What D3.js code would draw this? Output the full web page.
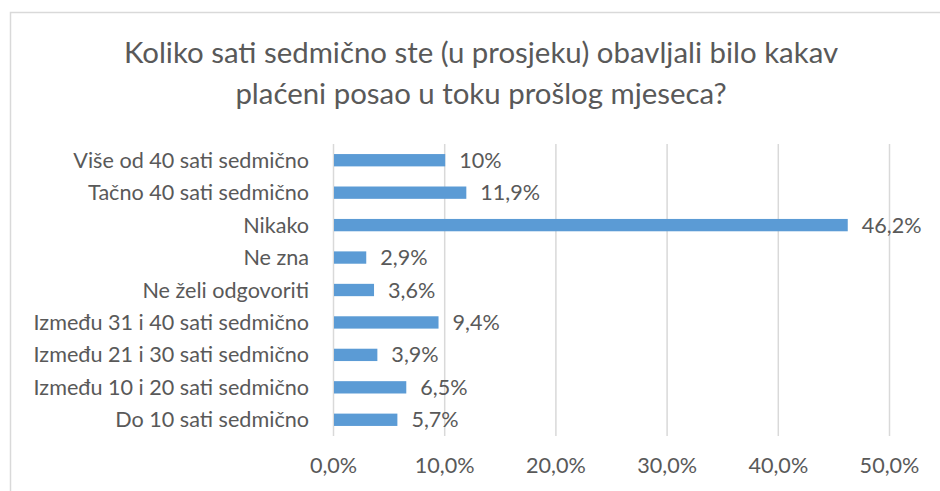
<!DOCTYPE html>
<html>
<head>
<meta charset="utf-8">
<script src="https://cdn.jsdelivr.net/npm/d3@7"></script>
<style>
  html, body { margin: 0; padding: 0; background: #fff; }
  svg { display: block; }
  text { font-family: Lato, "Open Sans", sans-serif; fill: #595959; }
</style>
</head>
<body>
<svg id="chart" width="940" height="491"></svg>
<script>
const titleLines = ["Koliko sati sedmično ste (u prosjeku) obavljali bilo kakav", "plaćeni posao u toku prošlog mjeseca?"];
const categories = [
  "Više od 40 sati sedmično",
  "Tačno 40 sati sedmično",
  "Nikako",
  "Ne zna",
  "Ne želi odgovoriti",
  "Između 31 i 40 sati sedmično",
  "Između 21 i 30 sati sedmično",
  "Između 10 i 20 sati sedmično",
  "Do 10 sati sedmično"
];
const values = [10, 11.9, 46.2, 2.9, 3.6, 9.4, 3.9, 6.5, 5.7];
const valueLabels = ["10%", "11,9%", "46,2%", "2,9%", "3,6%", "9,4%", "3,9%", "6,5%", "5,7%"];
const tickValues = [0, 10, 20, 30, 40, 50];
const tickLabels = ["0,0%", "10,0%", "20,0%", "30,0%", "40,0%", "50,0%"];

const svg = d3.select("#chart");
const labelSize = "21.6px";

// outer frame
svg.append("rect")
  .attr("x", 10.5).attr("y", 12.5)
  .attr("width", 960).attr("height", 520)
  .attr("fill", "#fff").attr("stroke", "#D9D9D9").attr("stroke-width", 1.5);

// title
svg.append("g").selectAll("text").data(titleLines).join("text")
  .attr("x", 481)
  .attr("y", (d, i) => 63 + i * 41)
  .attr("text-anchor", "middle")
  .style("font-size", "29.4px")
  .style("font-weight", 400)
  .text(d => d);

const x = d3.scaleLinear().domain([0, 50]).range([333, 889]);
const y = d3.scaleBand().domain(categories).range([144, 436]).paddingInner(0.62).paddingOuter(0.31);

// gridlines
svg.append("g").selectAll("line").data(tickValues).join("line")
  .attr("x1", d => x(d) + 0.5).attr("x2", d => x(d) + 0.5)
  .attr("y1", 144).attr("y2", 436)
  .attr("stroke", "#D9D9D9").attr("stroke-width", 1.5);

// x axis labels
const xAxis = d3.axisBottom(x).tickValues(tickValues)
  .tickFormat((d, i) => tickLabels[i]).tickSize(0).tickPadding(0);
const gx = svg.append("g").attr("transform", "translate(0,459)").call(xAxis);
gx.select(".domain").remove();
gx.selectAll("text").attr("dy", 0).attr("y", 14)
  .style("font-size", labelSize).style("fill", "#595959").style("font-family", "Lato, sans-serif");

// bars
svg.append("g").selectAll("rect").data(values).join("rect")
  .attr("x", x(0) + 1)
  .attr("y", (d, i) => y(categories[i]))
  .attr("width", d => x(d) - x(0))
  .attr("height", y.bandwidth())
  .attr("fill", "#5B9BD5");

// category labels
const yAxis = d3.axisLeft(y).tickSize(0).tickPadding(24);
const gy = svg.append("g").attr("transform", `translate(${x(0)},0)`).call(yAxis);
gy.select(".domain").remove();
gy.selectAll("text").attr("dy", "0.35em")
  .style("font-size", labelSize).style("fill", "#595959").style("font-family", "Lato, sans-serif");

// value labels
svg.append("g").selectAll("text").data(values).join("text")
  .attr("x", d => x(d) + 15)
  .attr("y", (d, i) => y(categories[i]) + y.bandwidth() / 2)
  .attr("dy", "0.35em")
  .style("font-size", labelSize)
  .text((d, i) => valueLabels[i]);
</script>
</body>
</html>
